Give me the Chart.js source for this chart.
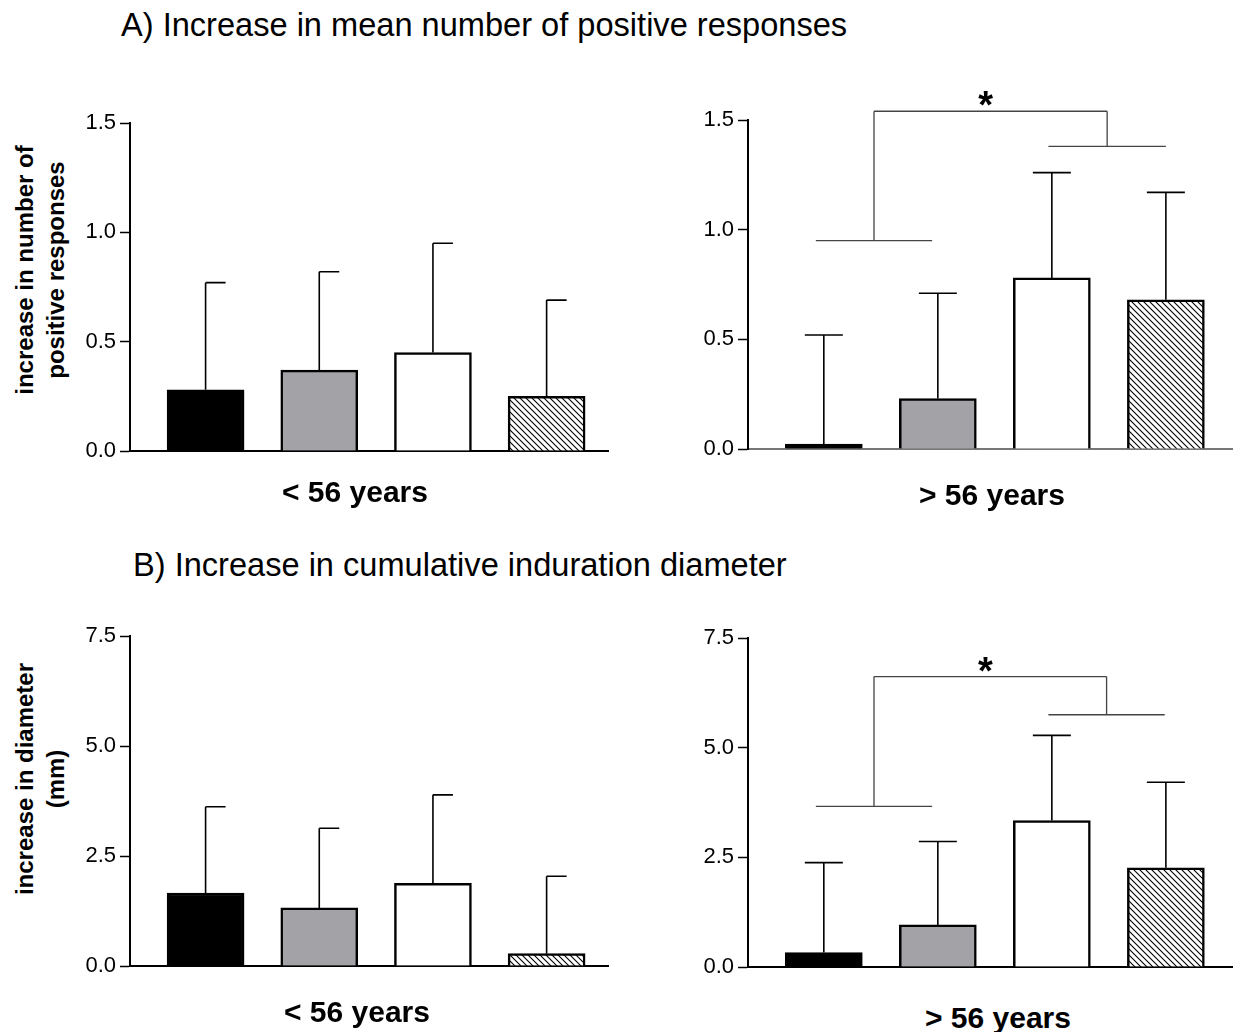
<!DOCTYPE html>
<html>
<head>
<meta charset="utf-8">
<script src="https://cdn.jsdelivr.net/npm/chart.js@4.4.1/dist/chart.umd.min.js"></script>
<style>
  body { margin: 0; width: 1234px; height: 1032px; background: #fff; position: relative; overflow: hidden; font-family: Arial, "Liberation Sans", sans-serif; color: #000; }
  .box { position: absolute; }
  .heading { position: absolute; font-size: 32.6px; line-height: 36px; white-space: nowrap; }
  .group { position: absolute; font-size: 30px; font-weight: bold; line-height: 34px; white-space: nowrap; transform: translate(-50%, -50%); }
  .ytitle { position: absolute; width: 400px; font-size: 24px; font-weight: bold; line-height: 31px; text-align: center; transform: translate(-50%, -50%) rotate(-90deg); }
</style>
</head>
<body>
<div class="heading" style="left:121px;top:7px">A) Increase in mean number of positive responses</div>
<div class="heading" style="left:133px;top:547px">B) Increase in cumulative induration diameter</div>

<div class="ytitle" style="left:40px;top:270px">increase in number of<br>positive responses</div>
<div class="ytitle" style="left:40px;top:779px">increase in diameter<br>(mm)</div>

<div class="box" style="left:0;top:100px;width:620px;height:381px"><canvas id="respYoung"></canvas></div>
<div class="box" style="left:620px;top:66px;width:614px;height:413px"><canvas id="respOld"></canvas></div>
<div class="box" style="left:0;top:613px;width:620px;height:383px"><canvas id="diamYoung"></canvas></div>
<div class="box" style="left:620px;top:614px;width:614px;height:383px"><canvas id="diamOld"></canvas></div>

<div class="group" style="left:355px;top:492px">&lt; 56 years</div>
<div class="group" style="left:992px;top:495px">&gt; 56 years</div>
<div class="group" style="left:357px;top:1012px">&lt; 56 years</div>
<div class="group" style="left:998px;top:1018px">&gt; 56 years</div>

<script>
// bar positions (4 groups per panel)
const barX = [1, 2, 3, 4];

// A) increase in number of positive responses
const respYoungMean = [0.28, 0.37, 0.45, 0.25];
const respYoungErr = [0.49, 0.45, 0.50, 0.44];
const respOldMean = [0.01, 0.23, 0.78, 0.68];
const respOldErr = [0.51, 0.48, 0.48, 0.49];

// B) increase in diameter (mm)
const diamYoungMean = [1.66, 1.32, 1.88, 0.28];
const diamYoungErr = [1.96, 1.81, 2.01, 1.76];
const diamOldMean = [0.33, 0.96, 3.34, 2.26];
const diamOldErr = [2.05, 1.90, 1.94, 1.95];

// significance brackets: [xFrom, xTo, y] for the two lower bars, then the top line
const respOldSigLow = [[0.93, 1.95, 0.95], [2.97, 4.0, 1.38]];
const respOldSigTop = 1.54;
const diamOldSigLow = [[0.93, 1.95, 3.66], [2.97, 3.99, 5.75]];
const diamOldSigTop = 6.62;

// hatch fill for the 4th bar
function makeHatch() {
    const c = document.createElement('canvas');
    c.width = 6; c.height = 6;
    const g = c.getContext('2d');
    g.fillStyle = '#fff';
    g.fillRect(0, 0, 6, 6);
    g.strokeStyle = '#000';
    g.lineWidth = 1.1;
    g.beginPath();
    g.moveTo(-1, -1); g.lineTo(7, 7);
    g.moveTo(-1, 5); g.lineTo(1, 7);
    g.moveTo(5, -1); g.lineTo(7, 1);
    g.stroke();
    return g.createPattern(c, 'repeat');
}
const barFills = ['#000000', '#a3a2a7', '#ffffff', makeHatch()];

// upper error bars
const errorBarPlugin = {
    id: 'errorBars',
    afterDatasetsDraw(chart, args, opts) {
        const ctx = chart.ctx;
        const yScale = chart.scales.y;
        const bars = chart.getDatasetMeta(0).data;
        const points = chart.data.datasets[0].data;
        ctx.save();
        ctx.strokeStyle = '#000';
        ctx.lineWidth = 1.6;
        bars.forEach((bar, i) => {
            const v = points[i].y;
            const yBar = yScale.getPixelForValue(v);
            const yTop = yScale.getPixelForValue(v + opts.errors[i]);
            ctx.beginPath();
            ctx.moveTo(bar.x, yBar);
            ctx.lineTo(bar.x, yTop);
            ctx.moveTo(opts.both ? bar.x - opts.cap : bar.x, yTop);
            ctx.lineTo(bar.x + opts.cap, yTop);
            ctx.stroke();
        });
        ctx.restore();
    }
};

// bracket with star
const sigPlugin = {
    id: 'sig',
    afterDatasetsDraw(chart, args, opts) {
        if (!opts.low) return;
        const ctx = chart.ctx;
        const {x, y} = chart.scales;
        const mids = opts.low.map(l => (l[0] + l[1]) / 2);
        const yTop = y.getPixelForValue(opts.top);
        ctx.save();
        ctx.strokeStyle = '#444';
        ctx.lineWidth = 1.3;
        ctx.beginPath();
        opts.low.forEach((l, i) => {
            const yl = y.getPixelForValue(l[2]);
            ctx.moveTo(x.getPixelForValue(l[0]), yl);
            ctx.lineTo(x.getPixelForValue(l[1]), yl);
            ctx.moveTo(x.getPixelForValue(mids[i]), yl);
            ctx.lineTo(x.getPixelForValue(mids[i]), yTop);
        });
        ctx.moveTo(x.getPixelForValue(mids[0]), yTop);
        ctx.lineTo(x.getPixelForValue(mids[1]), yTop);
        ctx.stroke();
        ctx.fillStyle = '#000';
        ctx.font = 'bold 38px Arial';
        ctx.textAlign = 'center';
        ctx.textBaseline = 'alphabetic';
        ctx.fillText('*', x.getPixelForValue((mids[0] + mids[1]) / 2) - 5, yTop + 7);
        ctx.restore();
    }
};

function makePanel(id, means, errs, cfg) {
    return new Chart(document.getElementById(id), {
        type: 'bar',
        data: {
            datasets: [{
                data: barX.map((x, i) => ({x: x, y: means[i]})),
                backgroundColor: barFills,
                borderColor: '#000',
                borderWidth: 2.5,
                barThickness: 77,
                minBarLength: 5
            }]
        },
        options: {
            responsive: true,
            maintainAspectRatio: false,
            animation: false,
            layout: { padding: { top: cfg.padTop, right: cfg.padRight, left: 0, bottom: 0 } },
            scales: {
                x: {
                    type: 'linear',
                    offset: false,
                    min: 0.335,
                    max: cfg.xMax,
                    afterFit: s => { s.height = 30; },
                    ticks: { display: false },
                    grid: { display: false },
                    border: { color: cfg.xAxisColor, width: 2 }
                },
                y: {
                    min: 0,
                    max: cfg.yMax,
                    afterFit: s => { s.width = cfg.yWidth; },
                    ticks: {
                        stepSize: cfg.yStep,
                        callback: v => v.toFixed(1),
                        color: '#000',
                        padding: 4,
                        font: { family: 'Arial', size: 22 }
                    },
                    grid: { drawOnChartArea: false, tickLength: 10, tickColor: '#000', tickWidth: 1.5 },
                    border: { color: '#000', width: 2 }
                }
            },
            plugins: {
                legend: { display: false },
                tooltip: { enabled: false },
                errorBars: { errors: errs, both: cfg.capBoth, cap: cfg.capBoth ? 19 : 20 },
                sig: { low: cfg.sigLow, top: cfg.sigTop }
            }
        },
        plugins: [errorBarPlugin, sigPlugin]
    });
}

makePanel('respYoung', respYoungMean, respYoungErr,
    { yMax: 1.5, yStep: 0.5, xMax: 4.54, yWidth: 130, padTop: 23, padRight: 12, xAxisColor: '#000', capBoth: false });
makePanel('respOld', respOldMean, respOldErr,
    { yMax: 1.5, yStep: 0.5, xMax: 4.58, yWidth: 128, padTop: 54, padRight: 2, xAxisColor: '#777', capBoth: true,
      sigLow: respOldSigLow, sigTop: respOldSigTop });
makePanel('diamYoung', diamYoungMean, diamYoungErr,
    { yMax: 7.5, yStep: 2.5, xMax: 4.54, yWidth: 130, padTop: 23, padRight: 12, xAxisColor: '#000', capBoth: false });
makePanel('diamOld', diamOldMean, diamOldErr,
    { yMax: 7.5, yStep: 2.5, xMax: 4.58, yWidth: 128, padTop: 24, padRight: 2, xAxisColor: '#000', capBoth: true,
      sigLow: diamOldSigLow, sigTop: diamOldSigTop });
</script>
</body>
</html>
